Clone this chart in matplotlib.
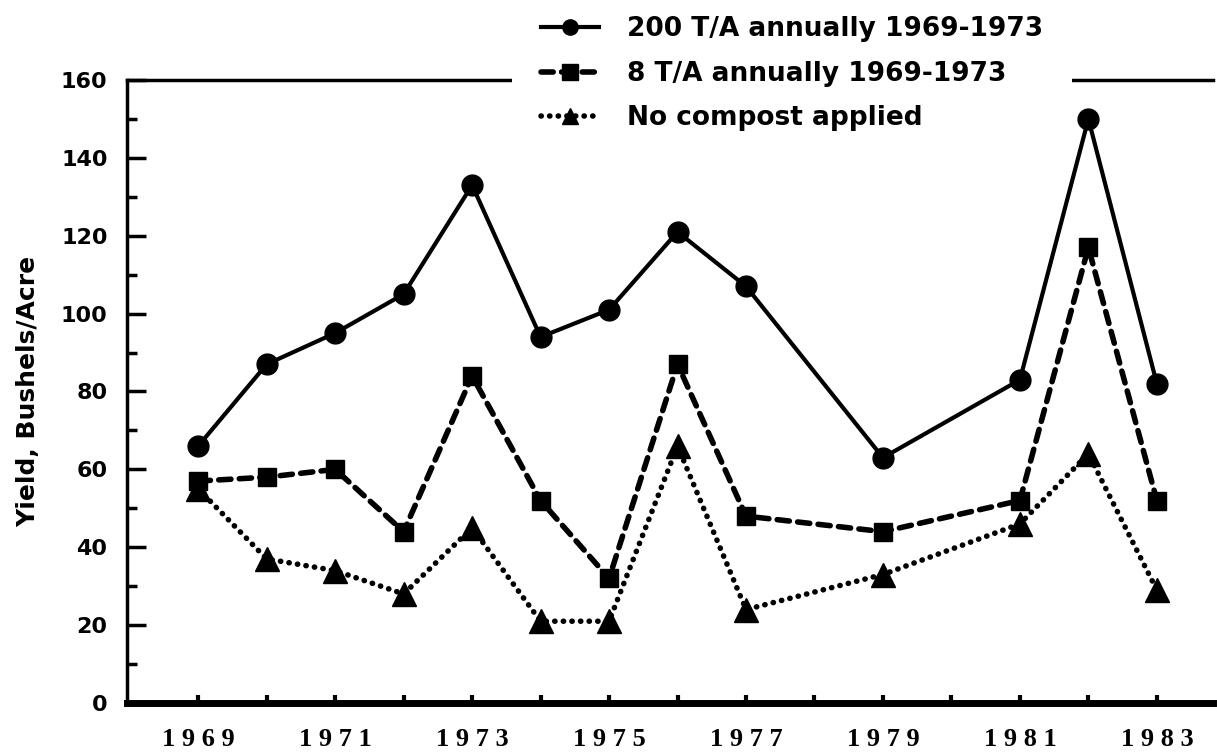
import matplotlib
matplotlib.use("Agg")
import matplotlib.pyplot as plt
from matplotlib.ticker import FixedLocator, MultipleLocator, FixedFormatter

# ---- data ----
years = [1969, 1970, 1971, 1972, 1973, 1974, 1975, 1976, 1977, 1979, 1981, 1982, 1983]
high_compost = [66, 87, 95, 105, 133, 94, 101, 121, 107, 63, 83, 150, 82]
low_compost = [57, 58, 60, 44, 84, 52, 32, 87, 48, 44, 52, 117, 52]
no_compost = [55, 37, 34, 28, 45, 21, 21, 66, 24, 33, 46, 64, 29]

labels = ["200 T/A annually 1969-1973", "8 T/A annually 1969-1973", "No compost applied"]
tick_years = list(range(1969, 1984))
label_years = [1969, 1971, 1973, 1975, 1977, 1979, 1981, 1983]
y_ticks = [0, 20, 40, 60, 80, 100, 120, 140, 160]
y_label = "Yield, Bushels/Acre"

W, H = 1217, 753
fig = plt.figure(figsize=(W / 100, H / 100), dpi=100)
ax = fig.add_axes([127 / W, 1 - 703 / H, (1213 - 127) / W, (703 - 80) / H])

ax.plot(years, high_compost, color="black", lw=3.0, ls="-", marker="o", ms=15,
        label=labels[0], zorder=3)
ax.plot(years, low_compost, color="black", lw=4, ls=(0, (2.2, 1.5)), marker="s", ms=13,
        label=labels[1], zorder=3, dash_capstyle="round")
ax.plot(years, no_compost, color="black", lw=4, ls=(0, (0.05, 1.5)), marker="^", ms=17,
        label=labels[2], zorder=3, dash_capstyle="round")

ax.set_xlim(1967.96, 1983.82)
ax.set_ylim(0, 160)

ax.spines["right"].set_visible(False)
ax.spines["top"].set_linewidth(2.5)
ax.spines["left"].set_linewidth(2.5)
ax.spines["bottom"].set_linewidth(5)

ax.xaxis.set_major_locator(FixedLocator(tick_years))
ax.xaxis.set_major_formatter(FixedFormatter(
    [" ".join(str(y)) if y in label_years else "" for y in tick_years]))
ax.tick_params(axis="x", direction="in", length=6, width=3, pad=18,
               labelsize=19, top=False)
for t in ax.get_xticklabels():
    t.set_fontfamily("Liberation Serif")
    t.set_fontweight("bold")

ax.yaxis.set_major_locator(FixedLocator(y_ticks))
ax.yaxis.set_minor_locator(MultipleLocator(10))
ax.tick_params(axis="y", which="major", direction="in", length=14, width=2.5,
               pad=14, labelsize=16)
ax.tick_params(axis="y", which="minor", direction="in", length=7, width=2.5)
for t in ax.get_yticklabels():
    t.set_fontfamily("DejaVu Sans")
    t.set_fontweight("bold")

ax.set_ylabel(y_label, fontsize=18, fontweight="bold", family="DejaVu Sans")
ax.yaxis.set_label_coords(-0.080, 0.5)

leg = ax.legend(loc="upper left", bbox_to_anchor=(512 / W, 1 + 13 / H),
                bbox_transform=fig.transFigure, frameon=True, fancybox=False,
                facecolor="white", edgecolor="none", framealpha=1.0,
                borderpad=1.1, borderaxespad=0, handlelength=2.2,
                handletextpad=1.05, labelspacing=0.71,
                prop={"family": "DejaVu Sans", "weight": "bold", "size": 19})
leg.set_zorder(5)
for h in leg.legend_handles:
    h.set_markersize(11)

fig.savefig("out.png", dpi=100, facecolor="white")
